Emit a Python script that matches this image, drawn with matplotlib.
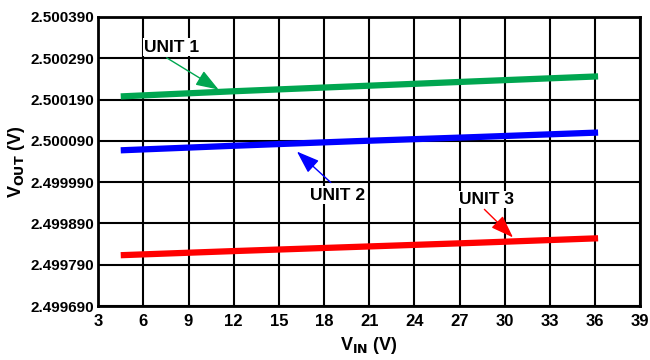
import matplotlib.pyplot as plt
from matplotlib.ticker import FixedLocator, FormatStrFormatter

#
# Data
#

vin = [4.5, 12.0, 20.0, 28.0, 36.2]                                     # V
unit1 = [2.5001975, 2.500210, 2.500222, 2.500234, 2.500246]
unit2 = [2.500067, 2.500078, 2.500089, 2.500099, 2.500110]
unit3 = [2.499813, 2.499823, 2.499833, 2.499843, 2.499854]

series_names = ['UNIT 1', 'UNIT 2', 'UNIT 3']
series_colors = ['#00a650', '#0000ff', '#ff0000']

x_ticks = [3, 6, 9, 12, 15, 18, 21, 24, 27, 30, 33, 36, 39]
y_ticks = [2.499690, 2.499790, 2.499890, 2.499990, 2.500090, 2.500190, 2.500290, 2.500390]

# label text position, arrow tail, arrow head (data coords)
label_pos = [(7.9, 2.500317), (18.9, 2.499958), (28.8, 2.499948)]
arrow_tail = [(7.55, 2.500291), (18.45, 2.499989), (28.65, 2.499924)]
arrow_head = [(11.0, 2.500214), (16.2, 2.500064), (30.55, 2.499856)]

plt.rcParams['font.family'] = ['Liberation Sans', 'DejaVu Sans']
plt.rcParams['font.weight'] = 'bold'
plt.rcParams['mathtext.default'] = 'bf'

fig = plt.figure(figsize=(6.5, 3.6), dpi=100)
ax = fig.add_axes([0.151, 0.150, 0.834, 0.803])                        # [left bottom width height]

for ys, c in zip([unit1, unit2, unit3], series_colors):
    ax.plot(vin, ys, color=c, linewidth=4.5, solid_capstyle='butt', zorder=3)

for name, c, lp, tail, head in zip(series_names, series_colors, label_pos, arrow_tail, arrow_head):
    ax.annotate('', xy=head, xytext=tail,
                arrowprops=dict(arrowstyle='-|>,head_length=1.4,head_width=0.5', color=c, lw=1.0,
                                shrinkA=0, shrinkB=0), zorder=4)
    ax.text(lp[0], lp[1], name, ha='center', va='center', fontsize=12.5, fontweight='bold',
            bbox=dict(facecolor='white', edgecolor='none', pad=1.0), zorder=5)

ax.set_xlim(3, 39)
ax.set_ylim(2.499690, 2.500390)
ax.xaxis.set_major_locator(FixedLocator(x_ticks))
ax.yaxis.set_major_locator(FixedLocator(y_ticks))
ax.yaxis.set_major_formatter(FormatStrFormatter('%.6f'))

ax.grid(True, color='black', linewidth=1.5, zorder=1)
ax.set_axisbelow(True)
for s in ax.spines.values():
    s.set_linewidth(2.0)
    s.set_color('black')

ax.tick_params(length=0)
ax.tick_params(axis='x', pad=6, labelsize=12)
ax.tick_params(axis='y', pad=3, labelsize=11)
for lab in ax.get_xticklabels() + ax.get_yticklabels():
    lab.set_fontweight('bold')

ax.set_xlabel('V$_{\\mathbf{IN}}$ (V)', fontsize=13, fontweight='bold', labelpad=4)
ax.set_ylabel('V$_{\\mathbf{OUT}}$ (V)', fontsize=13, fontweight='bold', labelpad=2)

fig.savefig('out.png', dpi=100)
